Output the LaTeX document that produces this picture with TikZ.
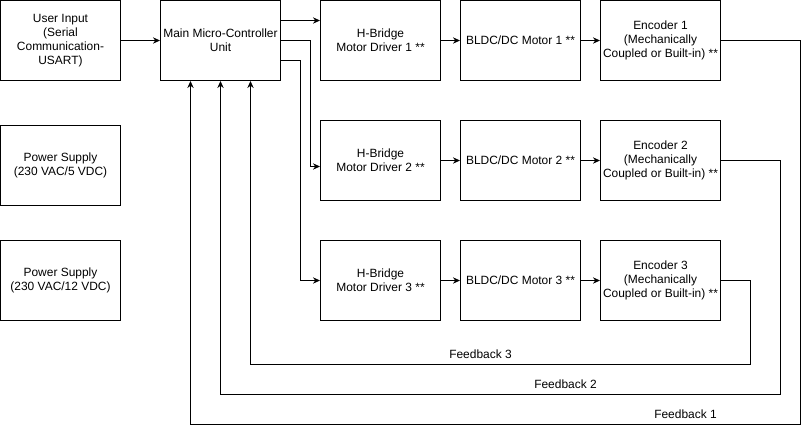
\documentclass[tikz,border=0pt]{standalone}
\usepackage{fontspec}
\setmainfont{Liberation Sans}
\usetikzlibrary{arrows.meta}
\tikzset{
    blk/.style={draw,line width=.7pt,minimum width=3cm,minimum height=2cm,align=center,inner sep=0pt},
    fblabel/.style={inner sep=0pt}
}
\begin{document}
\begin{tikzpicture}[x=0.025cm,y=-0.025cm,>={Stealth[length=5pt,width=4.5pt]},line width=.7pt,font=\fontsize{8.5}{9.9}\selectfont]
    \useasboundingbox (-0.5,-0.5) rectangle (808.5,433.5);
    % left column
    \node[blk] (usr) at (60,40) {User Input\\(Serial\\Communication-\\USART)};
    \node[blk] (mcu) at (220,40) {Main Micro-Controller\\Unit};
    \node[blk] (ps1) at (60,165) {Power Supply\\(230 VAC/5 VDC)};
    \node[blk] (ps2) at (60,280) {Power Supply\\(230 VAC/12 VDC)};
    % three motor channels
    \foreach \i/\y in {1/40,2/160,3/280}{
        \node[blk] (hb\i) at (380,\y) {H-Bridge\\Motor Driver \i\ **};
        \node[blk] (mot\i) at (520,\y) {BLDC/DC Motor \i\ **};
        \node[blk] (enc\i) at (660,\y) {Encoder \i\\(Mechanically\\Coupled or Built-in) **};
        \draw[->] (hb\i) -- (mot\i);
        \draw[->] (mot\i) -- (enc\i);
    }
    \draw[->] (usr) -- (mcu);
    \draw[->] (mcu.east |- 0,20) -- (hb1.west |- 0,20);
    \draw[->] (mcu.east |- 0,40) -- (310,40) |- (hb2.west |- 0,166);
    \draw[->] (mcu.east |- 0,60) -- (300,60) |- (hb3.west);
    % feedback paths
    \draw[->] (enc1.east) -| (800,424) -| (mcu.south -| 190,0);
    \draw[->] (enc2.east) -| (780,394) -| (mcu.south -| 220,0);
    \draw[->] (enc3.east) -| (750,364) -| (mcu.south -| 250,0);
    \node[fblabel] (fb1) at (685,414) {Feedback 1};
    \node[fblabel] (fb2) at (565,384) {Feedback 2};
    \node[fblabel] (fb3) at (480,354) {Feedback 3};
\end{tikzpicture}
\end{document}
